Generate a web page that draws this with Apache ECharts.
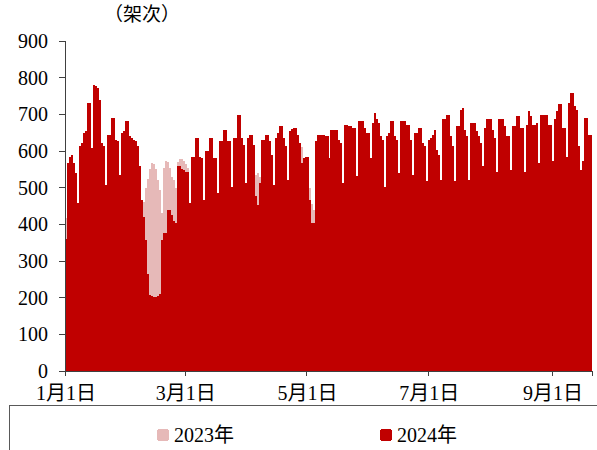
<!DOCTYPE html>
<html>
<head>
<meta charset="utf-8">
<script src="https://cdn.jsdelivr.net/npm/echarts@6/dist/echarts.min.js"></script>
<style>
  html, body { margin: 0; padding: 0; background: #fff; }
  #main { width: 597px; height: 450px; }
  /* 逐日柱宽不足 2px，关闭抗锯齿避免柱间白缝 */
  #main svg path { shape-rendering: crispEdges; }
</style>
</head>
<body>
<div id="main"></div>
<script>
// 横轴：2024-01-01 起逐日
var dayCount = 264;
var xTickLabels = ['1月1日', '3月1日', '5月1日', '7月1日', '9月1日'];
var legendNames = ['2023年', '2024年'];
var unitText = '（架次）';

// 2023年（大部分被2024年柱遮挡）
var flights2023 = [
  418, 430, 445, 450, 440, 430, 410,
  450, 460, 470, 475, 480, 470, 450,
  480, 485, 490, 490, 480, 470, 455,
  490, 495, 500, 500, 490, 485, 470,
  495, 500, 505, 505, 495, 490, 480,
  475, 460, 440, 430, 460, 500, 525,
  550, 567, 565, 550, 520, 495, 430,
  555, 572, 570, 555, 530, 520, 500,
  570, 578, 578, 572, 565, 555, 450,
  520, 525, 530, 530, 525, 520, 460,
  530, 535, 540, 540, 535, 530, 480,
  540, 545, 550, 550, 545, 540, 495,
  545, 550, 555, 555, 550, 545, 505,
  550, 555, 560, 560, 535, 540, 530,
  555, 560, 565, 565, 560, 555, 500,
  560, 565, 570, 570, 565, 560, 515,
  565, 570, 575, 575, 570, 580, 612,
  575, 565, 560, 500, 455, 440, 540,
  560, 565, 570, 570, 565, 560, 520,
  565, 570, 575, 575, 570, 560, 500,
  570, 575, 580, 580, 575, 570, 520,
  575, 580, 585, 585, 580, 575, 560,
  580, 585, 590, 590, 585, 580, 495,
  585, 590, 595, 595, 590, 585, 530,
  590, 595, 600, 600, 595, 590, 525,
  595, 600, 605, 605, 600, 595, 510,
  595, 600, 605, 605, 595, 585, 515,
  600, 605, 610, 610, 605, 600, 510,
  605, 610, 615, 615, 610, 605, 515,
  605, 610, 615, 615, 610, 605, 550,
  610, 615, 620, 620, 615, 610, 535,
  610, 615, 620, 620, 615, 610, 540,
  600, 605, 610, 610, 605, 600, 535,
  595, 600, 605, 605, 600, 595, 560,
  590, 595, 600, 600, 595, 590, 565,
  585, 590, 595, 595, 590, 585, 575,
  590, 595, 600, 600, 595, 580, 540,
  560, 590, 595, 600, 600
];

// 2024年
var flights2024 = [
  360, 567, 585, 590, 567, 540, 458,
  613, 622, 649, 654, 731, 731, 608,
  781, 777, 772, 740, 622, 613, 508,
  645, 645, 690, 690, 631, 627, 535,
  649, 654, 681, 681, 640, 636, 631,
  627, 613, 558, 467, 421, 357, 265,
  207, 205, 203, 203, 205, 210, 357,
  376, 376, 440, 440, 426, 410, 405,
  558, 558, 552, 549, 544, 544, 458,
  585, 585, 636, 636, 585, 581, 467,
  599, 599, 636, 636, 581, 581, 485,
  627, 627, 658, 658, 627, 627, 503,
  636, 636, 699, 699, 636, 617, 512,
  636, 645, 645, 617, 476, 453, 512,
  631, 631, 645, 645, 627, 590, 508,
  636, 650, 667, 667, 636, 613, 522,
  654, 660, 663, 663, 645, 622, 567,
  581, 585, 585, 467, 403, 403, 627,
  645, 645, 645, 645, 640, 640, 581,
  658, 658, 658, 658, 631, 622, 512,
  672, 672, 667, 667, 663, 663, 531,
  681, 681, 681, 663, 649, 649, 581,
  677, 704, 686, 677, 640, 631, 503,
  640, 649, 681, 681, 640, 631, 540,
  681, 681, 681, 672, 672, 630, 535,
  649, 649, 663, 663, 622, 613, 517,
  631, 636, 645, 658, 604, 590, 522,
  686, 686, 699, 699, 640, 613, 517,
  667, 667, 713, 718, 658, 640, 522,
  677, 677, 677, 654, 640, 622, 558,
  663, 686, 686, 686, 658, 636, 544,
  686, 686, 686, 667, 640, 640, 549,
  667, 667, 695, 695, 663, 663, 544,
  672, 709, 695, 672, 672, 677, 567,
  699, 699, 699, 699, 672, 672, 572,
  686, 709, 727, 727, 663, 663, 585,
  731, 759, 759, 722, 713, 613, 549,
  572, 690, 690, 645, 645
];

// 日期类目
var categories = [];
for (var i = 0; i < dayCount; i++) {
  var d = new Date(2024, 0, 1 + i);
  categories.push((d.getMonth() + 1) + '月' + d.getDate() + '日');
}

function isTickDay(index, value) {
  return xTickLabels.indexOf(categories[index]) !== -1;
}

var serifFont = '"Liberation Serif", "Times New Roman", "Noto Sans CJK SC", serif';

var myChart = echarts.init(document.getElementById('main'), null, { renderer: 'svg' });

myChart.setOption({
  animation: false,
  grid: {
    left: 65,
    right: 5,
    top: 41,
    bottom: 79,
    containLabel: false,
    outerBoundsMode: 'none'
  },
  legend: {
    data: legendNames,
    left: 152,
    top: 420,
    itemGap: 146,
    itemWidth: 12,
    itemHeight: 12,
    icon: 'roundRect',
    textStyle: {
      fontFamily: serifFont,
      fontSize: 20,
      color: '#000'
    }
  },
  graphic: [
    {
      type: 'rect',
      silent: true,
      shape: { x: 9.5, y: 405.5, width: 600, height: 60 },
      style: { fill: 'none', stroke: '#595959', lineWidth: 1 }
    },
    {
      type: 'text',
      silent: true,
      left: 104,
      top: 3,
      style: {
        text: unitText,
        fontFamily: '"Noto Sans CJK SC", sans-serif',
        fontSize: 19,
        fill: '#000'
      }
    }
  ],
  // 两条类目轴重叠，两组柱各占满整个类目宽度
  xAxis: [
    {
      type: 'category',
      data: categories,
      boundaryGap: true,
      axisLine: { lineStyle: { color: '#404040', width: 1 } },
      axisTick: {
        show: true,
        interval: isTickDay,
        length: 5,
        lineStyle: { color: '#404040' }
      },
      axisLabel: {
        interval: isTickDay,
        margin: 13,
        lineHeight: 18,
        fontFamily: serifFont,
        fontSize: 20,
        color: '#000'
      },
      splitLine: { show: false },
      z: 5
    },
    {
      type: 'category',
      data: categories,
      boundaryGap: true,
      show: false
    }
  ],
  yAxis: {
    type: 'value',
    min: 0,
    max: 900,
    interval: 100,
    axisLine: { show: true, lineStyle: { color: '#404040', width: 1 } },
    axisTick: { show: true, length: 6, lineStyle: { color: '#404040' } },
    axisLabel: {
      margin: 17,
      lineHeight: 16,
      fontFamily: serifFont,
      fontSize: 20,
      color: '#000'
    },
    splitLine: { show: false },
    z: 5
  },
  series: [
    {
      name: '2023年',
      type: 'bar',
      xAxisIndex: 1,
      data: flights2023,
      barWidth: '100%',
      itemStyle: { color: '#E6B9B8' }
    },
    {
      name: '2024年',
      type: 'bar',
      xAxisIndex: 0,
      data: flights2024,
      barWidth: '100%',
      itemStyle: { color: '#C00000' }
    }
  ]
});
</script>
</body>
</html>
